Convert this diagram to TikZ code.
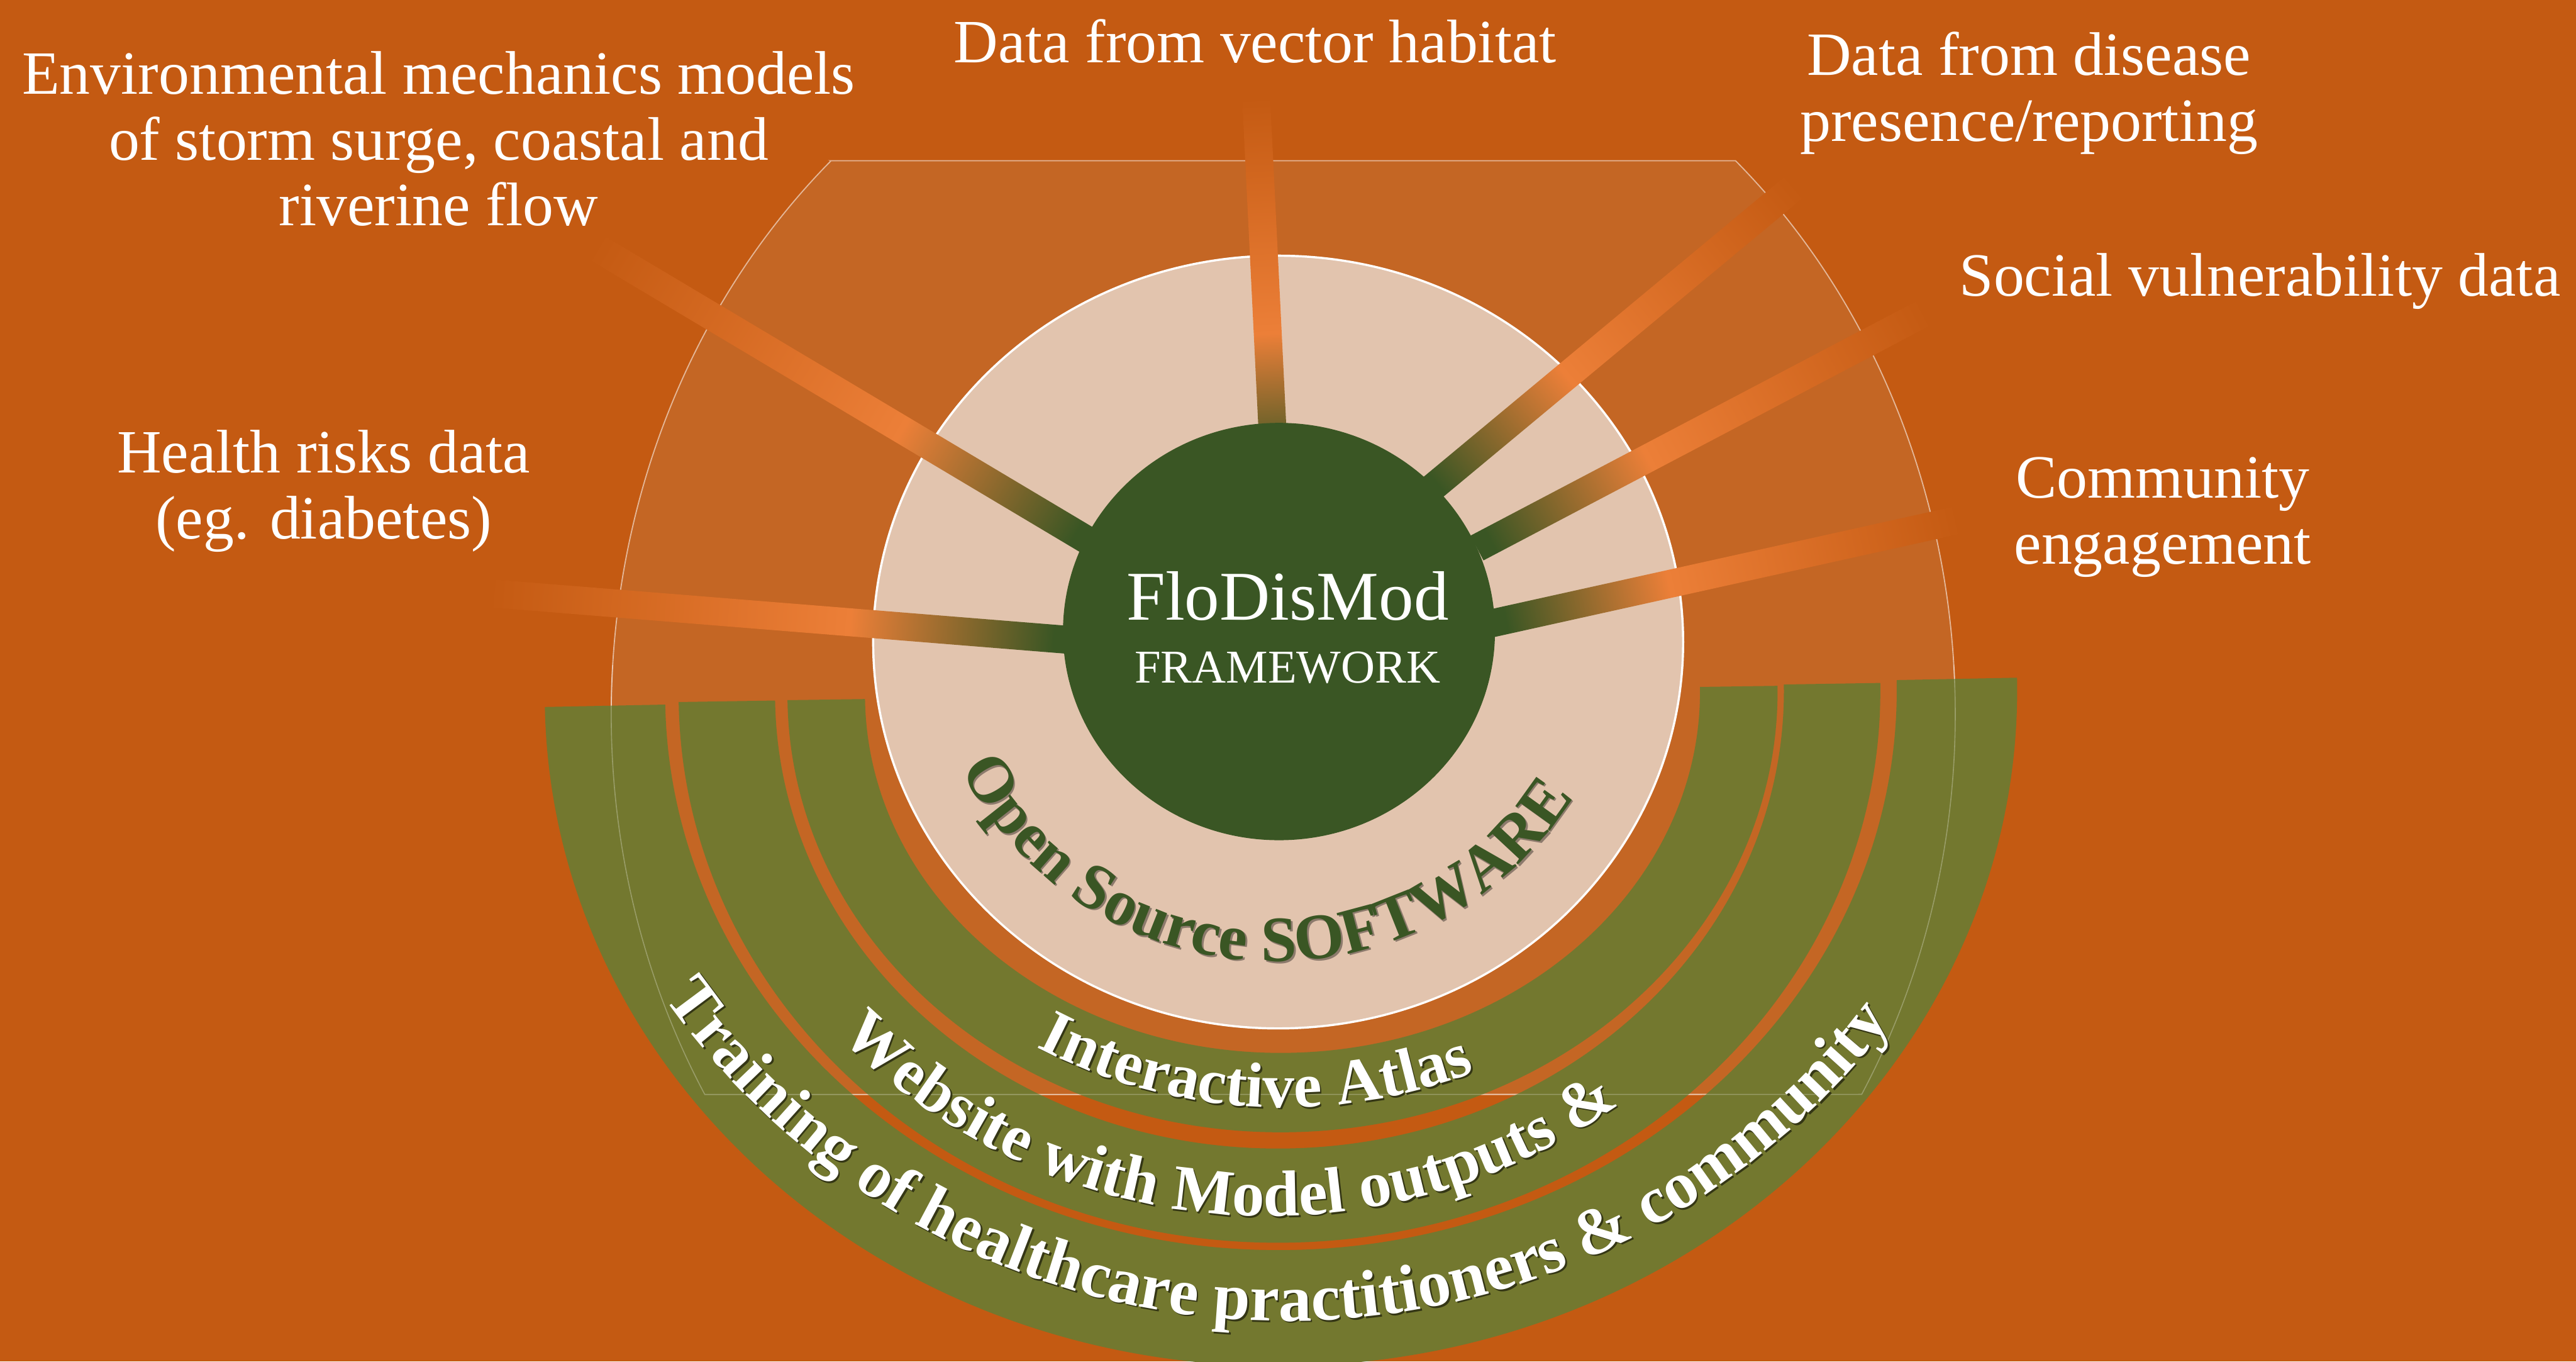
\documentclass[tikz,border=0pt]{standalone}
\usepackage{fontspec}
\setmainfont{Liberation Serif}
\usetikzlibrary{decorations.text,shapes.geometric}
\definecolor{bgc}{RGB}{196,90,18}
\definecolor{transfill}{RGB}{196,102,36}
\definecolor{beige}{RGB}{226,196,174}
\definecolor{coregreen}{RGB}{58,86,36}
\definecolor{bandolive}{RGB}{115,120,47}
\definecolor{spokeor}{RGB}{236,127,56}
\pgfdeclarehorizontalshading{spokeshade}{100bp}{color(0bp)=(bgc); color(25bp)=(bgc); color(56bp)=(spokeor); color(73.5bp)=(coregreen); color(100bp)=(coregreen)}
\newcommand\labelfont{\fontsize{21.3}{22.86}\selectfont}
\newcommand\fontOSS{\fontsize{22.4}{24}\selectfont\bfseries}
\newcommand\fontIA{\fontsize{22}{24}\selectfont\bfseries}
\newcommand\fontWS{\fontsize{22.5}{24}\selectfont\bfseries}
\newcommand\fontTR{\fontsize{23}{25}\selectfont\bfseries}
\makeatletter
\newcommand\spokebar[2]{%
  \pgfpointdiff{\pgfpointanchor{#1}{center}}{\pgfpointanchor{#2}{center}}%
  \edef\spdx{\the\pgf@x}\edef\spdy{\the\pgf@y}%
  \pgfmathsetmacro\splen{veclen(\spdx,\spdy)}%
  \pgfmathsetmacro\spang{atan2(\spdy,\spdx)}%
  \begin{scope}[transform canvas={shift={(#1)},rotate=\spang}]
    \shade[shading=spokeshade] (0pt,-4.84pt) rectangle (\splen pt,4.84pt);
  \end{scope}%
}
\makeatother
\tikzset{
  framepath/.style={draw=white, draw opacity=0.55, line width=0.4pt},
  lbl/.style={anchor=base, inner sep=0pt, text=white},
  bandfill/.style={fill=bandolive}
}
\begin{document}
\begin{tikzpicture}[x=0.02cm, y=-0.02cm]
\useasboundingbox (0,0) rectangle (1568,828.48);
\fill[bgc] (0,0) rectangle (1568,828.48);

% translucent frame
\path[fill=transfill, framepath] (505.6,97.8) -- (1056.4,97.8)
  arc[start angle=-47.7, end angle=30.6, x radius=409, y radius=455] -- (429,666)
  arc[start angle=149.4, end angle=227.7, x radius=409, y radius=455] -- cycle;

% beige disc
\draw[white, line width=0.75pt, fill=beige] (778,390.7) ellipse [x radius=246.5, y radius=235.1];

% spoke end points
\coordinate (envO) at (362,150);      \coordinate (envI) at (664,330);
\coordinate (healthO) at (298,361);   \coordinate (healthI) at (652,389.5);
\coordinate (vectorO) at (764.6,59.7);\coordinate (vectorI) at (776,291);
\coordinate (diseaseO) at (1093,113); \coordinate (diseaseI) at (868,300);
\coordinate (socialO) at (1172,190);  \coordinate (socialI) at (899,333.5);
\coordinate (commO) at (1192,316.4);  \coordinate (commI) at (908,379.3);

\spokebar{envO}{envI}
\spokebar{healthO}{healthI}
\spokebar{vectorO}{vectorI}
\spokebar{diseaseO}{diseaseI}
\spokebar{socialO}{socialI}
\spokebar{commO}{commI}

% core
\node[ellipse, fill=coregreen, draw=none, minimum width=5.26cm, minimum height=5.08cm, inner sep=0pt] (core) at (778.5,384.3) {};
\node[lbl, font=\fontsize{24.2}{26}\selectfont] (flo) at (783.8,377.1) {FloDisMod};
\node[lbl, font=\fontsize{16.3}{18}\selectfont] (frame) at (783.7,415.6) {FRAMEWORK};

% bands
\begin{scope}[shift={(779.7,421.3)}, rotate=1.14]
\fill[bandfill] (-448.15,0) -- (-374.85,0) arc[start angle=180, end angle=0, x radius=374.85, y radius=339.4]
  -- (448.15,0) arc[start angle=0, end angle=180, x radius=448.15, y radius=410] -- cycle;
\end{scope}
\begin{scope}[shift={(778.8,421.4)}, rotate=0.91]
\fill[bandfill] (-365.75,0) -- (-307.05,0) arc[start angle=180, end angle=0, x radius=307.05, y radius=277.5]
  -- (365.75,0) arc[start angle=0, end angle=180, x radius=365.75, y radius=334.8] -- cycle;
\end{scope}
\begin{scope}[shift={(780.65,421.7)}, rotate=0.83]
\fill[bandfill] (-301.35,0) -- (-254.15,0) arc[start angle=180, end angle=0, x radius=254.15, y radius=219]
  -- (301.35,0) arc[start angle=0, end angle=180, x radius=301.35, y radius=267.3] -- cycle;
\end{scope}

% frame outline seen faintly over the bands
\begin{scope}
\clip (0,405) rectangle (1568,700);
\path[draw=white, draw opacity=0.28, line width=0.35pt] (505.6,97.8) -- (1056.4,97.8)
  arc[start angle=-47.7, end angle=30.6, x radius=409, y radius=455] -- (429,666)
  arc[start angle=149.4, end angle=227.7, x radius=409, y radius=455] -- cycle;
\end{scope}

% curved texts: shadows
\path[decorate, decoration={text along path, text align=center, text color=beige!62!black,
  text={|\fontOSS|Open Source SOFTWARE}}] (777,371) ++(167.5:215) arc[start angle=167.5, end angle=17.5, radius=215];
\path[decorate, decoration={text along path, text align=center, text color=bandolive!45!black,
  text={|\fontIA|Interactive Atlas}}] (782,351) ++(133.25:324) arc[start angle=133.25, end angle=53.25, radius=324];
\path[decorate, decoration={text along path, text align=center, text color=bandolive!45!black,
  text={|\fontWS|Website with Model outputs {\&}}}] (773.5,374) ++(149.95:367) arc[start angle=149.95, end angle=39.95, radius=367];
\path[decorate, decoration={text along path, text align=center, text color=bandolive!45!black,
  text={|\fontTR|Training of healthcare practitioners {\&} community}}] (784,342.4) ++(161.1:462.4) arc[start angle=161.1, end angle=21.1, radius=462.4];

% curved texts
\path[decorate, decoration={text along path, text align=center, text color=coregreen,
  text={|\fontOSS|Open Source SOFTWARE}}] (776,370) ++(167.5:215) arc[start angle=167.5, end angle=17.5, radius=215];
\path[decorate, decoration={text along path, text align=center, text color=white,
  text={|\fontIA|Interactive Atlas}}] (781,350) ++(133.25:324) arc[start angle=133.25, end angle=53.25, radius=324];
\path[decorate, decoration={text along path, text align=center, text color=white,
  text={|\fontWS|Website with Model outputs {\&}}}] (772.5,373) ++(149.95:367) arc[start angle=149.95, end angle=39.95, radius=367];
\path[decorate, decoration={text along path, text align=center, text color=white,
  text={|\fontTR|Training of healthcare practitioners {\&} community}}] (783,341.4) ++(161.1:462.4) arc[start angle=161.1, end angle=21.1, radius=462.4];

% outer labels
\node[lbl] (env) at (267,57.1) {\parbox[t]{12cm}{\centering\labelfont Environmental mechanics models\\of storm surge, coastal and\\riverine flow}};
\node[lbl] (health) at (197,287.8) {\parbox[t]{8cm}{\centering\labelfont Health risks data\\(eg. diabetes)}};
\node[lbl] (vector) at (764,38.2) {\parbox[t]{10cm}{\centering\labelfont Data from vector habitat}};
\node[lbl] (disease) at (1235,45.9) {\parbox[t]{8cm}{\centering\labelfont Data from disease\\presence/reporting}};
\node[lbl] (social) at (1375.6,180.3) {\parbox[t]{10cm}{\centering\labelfont Social vulnerability data}};
\node[lbl] (community) at (1316.4,302.9) {\parbox[t]{8cm}{\centering\labelfont Community\\engagement}};
\end{tikzpicture}
\end{document}
